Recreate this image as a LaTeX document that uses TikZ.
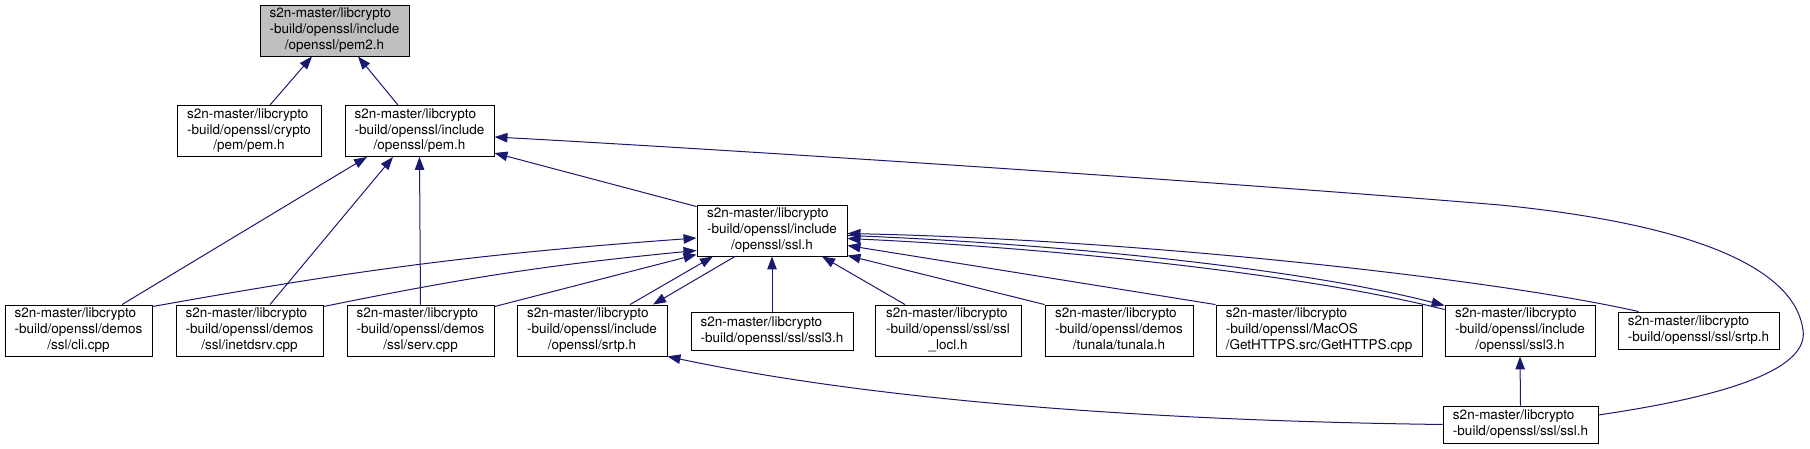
\documentclass[tikz,border=0pt]{standalone}
\usepackage{fontspec}
\setmainfont{TeX Gyre Heros}
\usetikzlibrary{arrows.meta}
\definecolor{edgeblue}{HTML}{191970}
\definecolor{focusgray}{HTML}{BFBFBF}
\newcommand{\incpath}[2]{\begin{tabular}{@{}l@{}}#1\\\multicolumn{1}{@{}c@{}}{#2}\end{tabular}}
\begin{document}
\begin{tikzpicture}[x=1pt, y=1pt, font=\fontsize{13.5}{15.8}\selectfont,
    file/.style={draw, line width=0.9pt, fill=white, inner sep=0pt, minimum height=51pt},
    dep/.style={draw=edgeblue, line width=1pt, -{Triangle[length=13pt,width=9.5pt]}}]
    \useasboundingbox (0,0) rectangle (1810,-449);
    % top rows
    \node[file, fill=focusgray, minimum width=149pt] (pem2) at (334.5,-30.5) {\incpath{s2n-master/libcrypto\\-build/openssl/include}{/openssl/pem2.h}};
    \node[file, minimum width=144pt] (cryptopem) at (249,-131) {\incpath{s2n-master/libcrypto\\-build/openssl/crypto}{/pem/pem.h}};
    \node[file, minimum width=149pt] (incpem) at (419.5,-131) {\incpath{s2n-master/libcrypto\\-build/openssl/include}{/openssl/pem.h}};
    \node[file, minimum width=150pt] (incssl) at (772,-230.5) {\incpath{s2n-master/libcrypto\\-build/openssl/include}{/openssl/ssl.h}};
    % third row
    \node[file, minimum width=147pt] (cli) at (78.5,-330.5) {\incpath{s2n-master/libcrypto\\-build/openssl/demos}{/ssl/cli.cpp}};
    \node[file, minimum width=147pt] (inetdsrv) at (249.5,-330.5) {\incpath{s2n-master/libcrypto\\-build/openssl/demos}{/ssl/inetdsrv.cpp}};
    \node[file, minimum width=147pt] (serv) at (420.5,-330.5) {\incpath{s2n-master/libcrypto\\-build/openssl/demos}{/ssl/serv.cpp}};
    \node[file, minimum width=150pt] (incsrtp) at (592,-330.5) {\incpath{s2n-master/libcrypto\\-build/openssl/include}{/openssl/srtp.h}};
    \node[file, minimum width=162pt, minimum height=38pt] (sslssl3) at (772,-331) {\incpath{s2n-master/libcrypto}{-build/openssl/ssl/ssl3.h}};
    \node[file, minimum width=146pt] (ssllocl) at (948,-330.5) {\incpath{s2n-master/libcrypto\\-build/openssl/ssl/ssl}{\_locl.h}};
    \node[file, minimum width=148pt] (tunala) at (1119,-330.5) {\incpath{s2n-master/libcrypto\\-build/openssl/demos}{/tunala/tunala.h}};
    \node[file, minimum width=206pt] (gethttps) at (1319,-330.5) {\incpath{s2n-master/libcrypto\\-build/openssl/MacOS}{/GetHTTPS.src/GetHTTPS.cpp}};
    \node[file, minimum width=150pt] (incssl3) at (1520,-330.5) {\incpath{s2n-master/libcrypto\\-build/openssl/include}{/openssl/ssl3.h}};
    \node[file, minimum width=161pt, minimum height=37pt] (sslsrtp) at (1698.5,-330.5) {\incpath{s2n-master/libcrypto}{-build/openssl/ssl/srtp.h}};
    % bottom
    \node[file, minimum width=155pt, minimum height=37pt] (sslssl) at (1520.5,-424.5) {\incpath{s2n-master/libcrypto}{-build/openssl/ssl/ssl.h}};
    % includes of pem2.h and pem.h
    \draw[dep] ([xshift=21pt]cryptopem.north) -- ([xshift=-22.5pt]pem2.south);
    \draw[dep] ([xshift=-21.5pt]incpem.north) -- ([xshift=23.5pt]pem2.south);
    \draw[dep] ([xshift=43.5pt]cli.north) -- ([xshift=-52.5pt]incpem.south);
    \draw[dep] ([xshift=20.5pt]inetdsrv.north) -- ([xshift=-26.5pt]incpem.south);
    \draw[dep] (serv.north) -- (incpem.south);
    \draw[dep] ([yshift=-2pt]incssl.north west) -- ([yshift=-22pt]incpem.east);
    \draw[dep] ([yshift=9.5pt]sslssl.east) .. controls (1700,-400) and (1810,-375) .. (1803,-330)
        .. controls (1795,-270) and (1700,-225) .. (1500,-205)
        .. controls (1200,-180) and (700,-148) .. ([yshift=-6pt]incpem.east);
    % includes of ssl.h
    \draw[dep] ([yshift=-2pt]cli.north east) to[bend left=3] ([yshift=-7.5pt]incssl.west);
    \draw[dep] ([yshift=-2pt]inetdsrv.north east) to[bend left=3] ([yshift=-20pt]incssl.west);
    \draw[dep] ([yshift=-2pt]serv.north east) -- ([yshift=-24pt]incssl.west);
    \draw[dep] ([xshift=38pt]incsrtp.north) -- ([xshift=-59pt]incssl.south);
    \draw[dep] ([xshift=-37pt]incssl.south) -- ([xshift=61pt]incsrtp.north);
    \draw[dep] (sslssl3.north) -- (incssl.south);
    \draw[dep] ([xshift=-43pt]ssllocl.north) -- ([xshift=50pt]incssl.south);
    \draw[dep] (tunala.north west) -- ([yshift=-25pt]incssl.east);
    \draw[dep] (gethttps.north west) -- ([yshift=-15pt]incssl.east);
    \draw[dep] ([yshift=-5pt]incssl.east) .. controls (1050,-243) and (1300,-268) .. ([yshift=-1pt]incssl3.north west);
    \draw[dep] ([yshift=-5pt]incssl3.north west) .. controls (1300,-273) and (1050,-248) .. ([yshift=-8pt]incssl.east);
    \draw[dep] ([xshift=-60pt]sslsrtp.north) .. controls (1500,-280) and (1150,-240) .. ([yshift=-3pt]incssl.east);
    % includes of ssl/ssl.h
    \draw[dep] (sslssl.west) .. controls (1100,-420) and (850,-395) .. (incsrtp.south east);
    \draw[dep] (sslssl.north) -- (incssl3.south);
\end{tikzpicture}
\end{document}
